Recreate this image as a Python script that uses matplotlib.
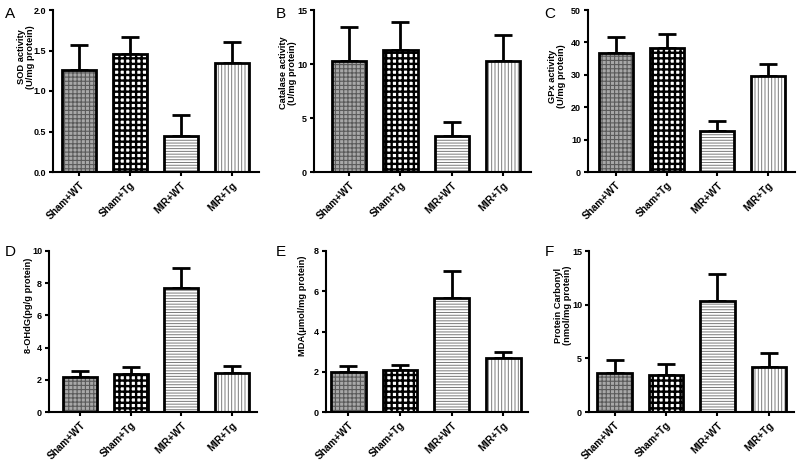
import matplotlib
matplotlib.use("Agg")
import matplotlib.pyplot as plt
import numpy as np

plt.rcParams['font.family'] = ['Liberation Sans', 'DejaVu Sans']

categories = ["Sham+WT", "Sham+Tg", "MIR+WT", "MIR+Tg"]

sod_mean = [1.26, 1.46, 0.44, 1.35]
sod_err = [0.31, 0.21, 0.26, 0.26]
cat_mean = [10.3, 11.25, 3.3, 10.3]
cat_err = [3.1, 2.6, 1.3, 2.35]
gpx_mean = [36.8, 38.3, 12.7, 29.6]
gpx_err = [5.0, 4.4, 3.0, 3.7]
ohdg_mean = [2.19, 2.37, 7.73, 2.41]
ohdg_err = [0.33, 0.41, 1.2, 0.46]
mda_mean = [2.01, 2.10, 5.68, 2.66]
mda_err = [0.28, 0.24, 1.31, 0.34]
pc_mean = [3.68, 3.46, 10.3, 4.21]
pc_err = [1.15, 1.02, 2.54, 1.30]

panels = [
    dict(letter="A", mean=sod_mean, err=sod_err, ylabel="SOD activity\n(U/mg protein)",
         ylim=2.0, yticks=[0, 0.5, 1.0, 1.5, 2.0], fmt="{:.1f}",
         rect=[53, 10, 259, 172], xl=(-0.52, 3.54), lab=(-0.133, 0.71), let=(10, 14)),
    dict(letter="B", mean=cat_mean, err=cat_err, ylabel="Catalase activity\n(U/mg protein)",
         ylim=15, yticks=[0, 5, 10, 15], fmt="{:.0f}",
         rect=[314, 10, 531, 172], xl=(-0.69, 3.55), lab=(-0.12, 0.61), let=(281, 14)),
    dict(letter="C", mean=gpx_mean, err=gpx_err, ylabel="GPx activity\n(U/mg protein)",
         ylim=50, yticks=[0, 10, 20, 30, 40, 50], fmt="{:.0f}",
         rect=[588, 10, 795, 172], xl=(-0.55, 3.53), lab=(-0.15, 0.59), let=(550, 14)),
    dict(letter="D", mean=ohdg_mean, err=ohdg_err, ylabel="8-OHdG(pg/g protein)",
         ylim=10, yticks=[0, 2, 4, 6, 8, 10], fmt="{:.0f}",
         rect=[49, 251, 257, 412], xl=(-0.61, 3.49), lab=(-0.098, 0.66), let=(10, 252)),
    dict(letter="E", mean=mda_mean, err=mda_err, ylabel="MDA(\u03bcmol/mg protein)",
         ylim=8, yticks=[0, 2, 4, 6, 8], fmt="{:.0f}",
         rect=[326, 251, 528, 412], xl=(-0.43, 3.48), lab=(-0.115, 0.66), let=(281, 252)),
    dict(letter="F", mean=pc_mean, err=pc_err, ylabel="Protein Carbonyl\n(nmol/mg protein)",
         ylim=15, yticks=[0, 5, 10, 15], fmt="{:.0f}",
         rect=[589, 251, 794, 412], xl=(-0.5, 3.49), lab=(-0.125, 0.66), let=(549, 252)),
]

styles = [
    dict(fc="#a8a8a8", hc="#5a5a5a", hatch="+" * 4, hlw=0.8),
    dict(fc="white", hc="black", hatch="+" * 3, hlw=1.7),
    dict(fc="white", hc="#7a7a7a", hatch="-" * 6, hlw=0.7),
    dict(fc="white", hc="#7a7a7a", hatch="|" * 5, hlw=0.7),
]

W, H = 800, 474
fig = plt.figure(figsize=(W / 100, H / 100), dpi=100)

x = np.arange(len(categories))
bw = 0.67
for p in panels:
    l, t, r, b = p["rect"]
    ax = fig.add_axes([l / W, 1 - b / H, (r - l) / W, (b - t) / H])
    for i in range(len(categories)):
        st = styles[i]
        bars = ax.bar(x[i], p["mean"][i], width=bw, color=st["fc"], edgecolor=st["hc"],
                      hatch=st["hatch"], linewidth=0, zorder=2)
        for bar in bars:
            try:
                bar.set_hatch_linewidth(st["hlw"])
            except Exception:
                pass
        ax.bar(x[i], p["mean"][i], width=bw, facecolor="none", edgecolor="black",
               linewidth=2, zorder=3)
    ax.errorbar(x, p["mean"], yerr=[np.zeros(4), p["err"]], fmt="none", ecolor="black",
                elinewidth=2, capsize=6.5, capthick=2, zorder=1)
    ax.set_xlim(*p["xl"])
    ax.set_ylim(0, p["ylim"])
    ax.set_yticks(p["yticks"])
    ax.set_yticklabels([p["fmt"].format(v) for v in p["yticks"]], fontsize=6.5, fontweight="bold")
    ax.set_xticks(x)
    ax.set_xticklabels(categories, rotation=45, ha="right", rotation_mode="anchor",
                       fontsize=7.2, fontweight="bold")
    for s in ["top", "right"]:
        ax.spines[s].set_visible(False)
    for s in ["left", "bottom"]:
        ax.spines[s].set_linewidth(1.5)
    ax.tick_params(axis="both", width=1.5, length=3, pad=2)
    ax.tick_params(axis="x", pad=3)
    ax.set_ylabel(p["ylabel"], fontsize=6.7, fontweight="bold", linespacing=1.0)
    ax.yaxis.label.set_va("center")
    ax.yaxis.set_label_coords(*p["lab"])
    lx, ly = p["let"]
    fig.text(lx / W, 1 - ly / H, p["letter"], fontsize=11, ha="center", va="center")

fig.savefig("out.png", dpi=100)
